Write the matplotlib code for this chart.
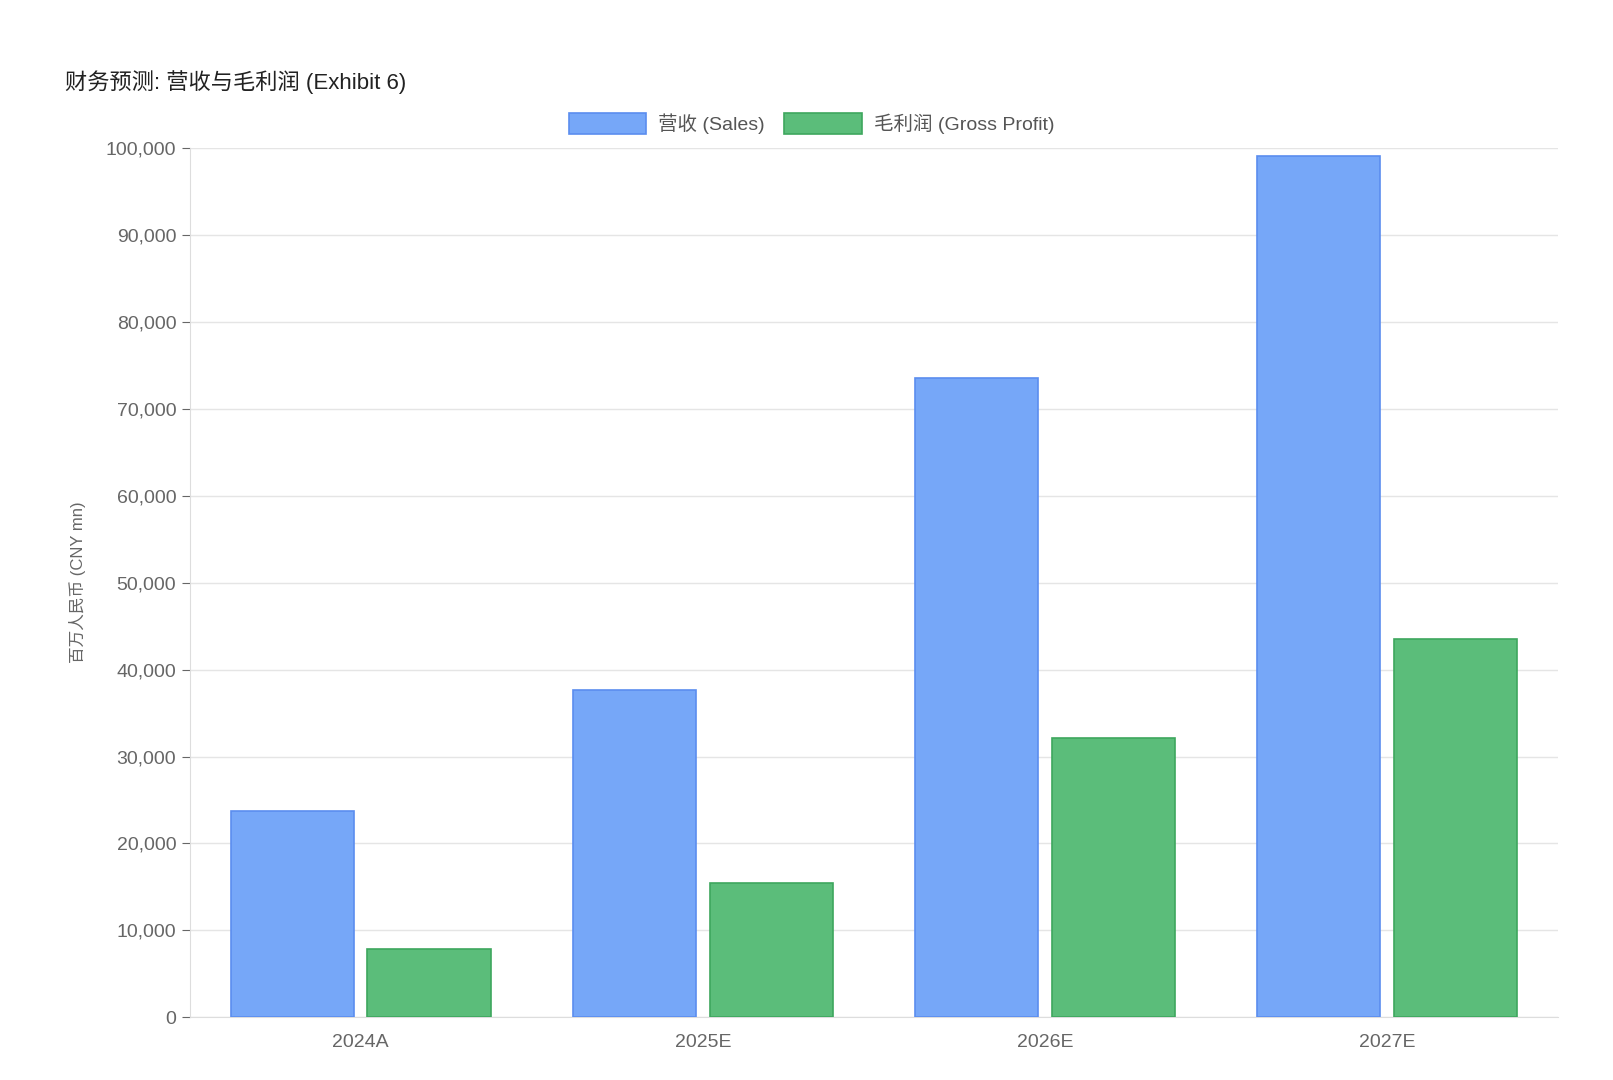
import numpy as np
import matplotlib.pyplot as plt
from matplotlib.ticker import FuncFormatter

plt.rcParams['font.family'] = ['Liberation Sans', 'Noto Sans CJK SC', 'DejaVu Sans']

years = ['2024A', '2025E', '2026E', '2027E']
sales = [23700, 37600, 73500, 99100]
gross_profit = [7900, 15500, 32100, 43500]

x = np.arange(len(years))
width = 0.36

fig = plt.figure(figsize=(16.13, 10.8), dpi=100)
ax = fig.add_axes([0.1175, 0.058, 0.8485, 0.805])

ax.bar(x - 0.2, sales, width, color='#76a7f8', edgecolor='#5b8def', linewidth=1.2, label='营收 (Sales)', zorder=3)
ax.bar(x + 0.2, gross_profit, width, color='#5bbd7a', edgecolor='#3ea75e', linewidth=1.2, label='毛利润 (Gross Profit)', zorder=3)

ax.set_xlim(-0.5, 3.5)
ax.set_ylim(0, 100000)
ax.set_yticks(range(0, 100001, 10000))
ax.yaxis.set_major_formatter(FuncFormatter(lambda v, p: f'{int(v):,}'))
ax.set_xticks(x)
ax.set_xticklabels(years)
ax.tick_params(axis='both', labelsize=14, colors='#666666', length=6)
ax.tick_params(axis='x', length=0, pad=12)
ax.grid(axis='y', color='#e5e5e5', linewidth=1, zorder=0)
for s in ['top', 'right']:
    ax.spines[s].set_visible(False)
for s in ['left', 'bottom']:
    ax.spines[s].set_color('#dddddd')
ax.set_ylabel('百万人民币 (CNY mn)', fontsize=12, color='#666666', labelpad=14)

fig.text(0.04, 0.924, '财务预测: 营收与毛利润 (Exhibit 6)', fontsize=16, color='#222222', va='center')
fig.legend(loc='center', bbox_to_anchor=(0.503, 0.886), ncol=2, frameon=False,
           fontsize=14, handlelength=4, handleheight=1.3, columnspacing=1.0,
           handletextpad=0.6, labelcolor='#555555')

plt.savefig('out.png', dpi=100)
